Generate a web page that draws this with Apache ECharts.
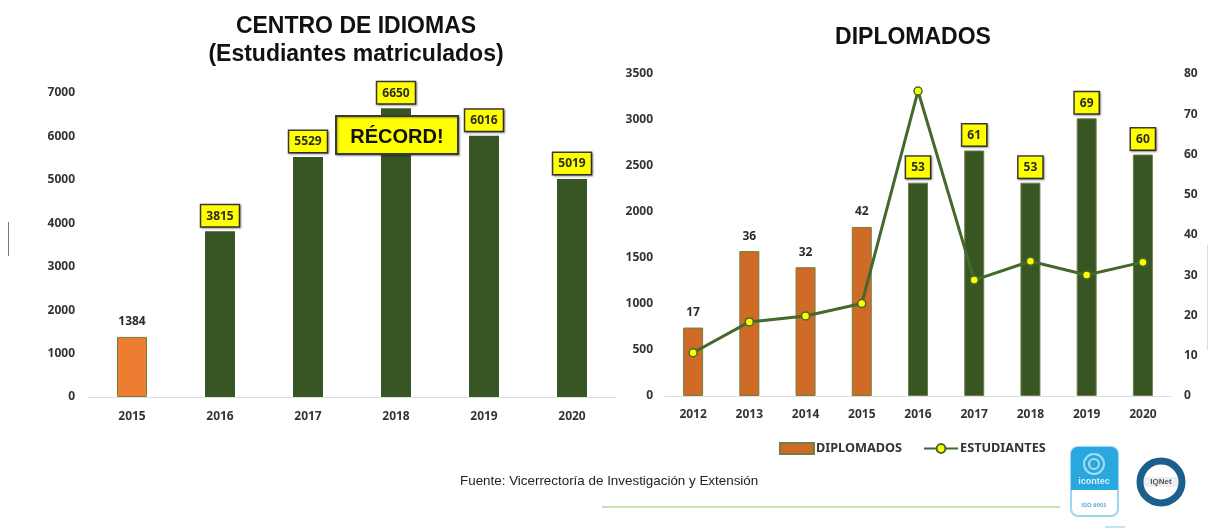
<!DOCTYPE html>
<html>
<head>
<meta charset="utf-8">
<style>
    html, body { margin: 0; padding: 0; background: #fff; }
    #chart { width: 1209px; height: 529px; }
</style>
<script src="https://cdn.jsdelivr.net/npm/echarts@6/dist/echarts.min.js"></script>
</head>
<body>
<div id="chart"></div>
<script>
// Centro de idiomas
const yearsIdiomas = ['2015', '2016', '2017', '2018', '2019', '2020'];
const matriculados = [1384, 3815, 5529, 6650, 6016, 5019];

// Diplomados
const yearsDiplomados = ['2012', '2013', '2014', '2015', '2016', '2017', '2018', '2019', '2020'];
const diplomados = [17, 36, 32, 42, 53, 61, 53, 69, 60];
const estudiantes = [470, 805, 870, 1005, 3315, 1260, 1465, 1315, 1455];

const green = '#375623';
const lineGreen = '#436a2c';
const yellowBox = {
    backgroundColor: '#ffff00',
    borderColor: '#3a3a3a',
    borderWidth: 1.5,
    padding: [5, 5, 4, 5],
    shadowColor: 'rgba(0, 0, 0, 0.35)',
    shadowBlur: 2,
    shadowOffsetX: 1,
    shadowOffsetY: 1
};

// los primeros valores van sin recuadro y en naranja
function barData(values, plainCount, orange) {
    return values.map((value, index) => {
        if (index < plainCount) {
            return {
                value: value,
                itemStyle: { color: orange, borderColor: '#6f7f45', borderWidth: 1 },
                label: { distance: 9 }
            };
        }
        return {
            value: value,
            itemStyle: { color: green },
            label: yellowBox
        };
    });
}

const axisFont = { color: '#333333', fontSize: 12, fontWeight: 'bold', fontFamily: 'Noto Sans' };
const labelFont = { color: '#2b2b2b', fontSize: 12, fontWeight: 'bold', fontFamily: 'Noto Sans' };
const axisLine = { show: true, lineStyle: { color: '#dedede', width: 1 } };
const plainNumber = value => String(value);

const chart = echarts.init(document.getElementById('chart'), null, { renderer: 'canvas' });

chart.setOption({
    animation: false,
    backgroundColor: '#ffffff',
    title: [{
        text: 'CENTRO DE IDIOMAS\n(Estudiantes matriculados)',
        left: 356,
        top: 13,
        padding: 0,
        textAlign: 'center',
        textStyle: {
            color: '#111',
            fontSize: 23,
            lineHeight: 28,
            fontWeight: 'bold',
            fontFamily: 'Liberation Sans'
        }
    }, {
        text: 'DIPLOMADOS',
        left: 913,
        top: 26,
        padding: 0,
        textAlign: 'center',
        textStyle: {
            color: '#111',
            fontSize: 23,
            fontWeight: 'bold',
            fontFamily: 'Liberation Sans'
        }
    }, {
        text: 'Fuente: Vicerrectoría de Investigación y Extensión',
        left: 460,
        top: 475,
        padding: 0,
        textStyle: {
            color: '#222',
            fontSize: 13.4,
            fontWeight: 'normal',
            fontFamily: 'Liberation Sans'
        }
    }],
    legend: {
        data: [
            { name: 'DIPLOMADOS', icon: 'rect' },
            { name: 'ESTUDIANTES' }
        ],
        left: 774,
        top: 437,
        itemWidth: 34,
        itemHeight: 11,
        itemGap: 21,
        textStyle: { color: '#333', fontSize: 12.7, fontWeight: 'bold', fontFamily: 'Noto Sans', padding: [0, 0, 0, -3] }
    },
    grid: [
        { left: 88, top: 93, width: 528, height: 304 },
        { left: 665, top: 74, width: 506, height: 322 }
    ],
    xAxis: [{
        type: 'category',
        gridIndex: 0,
        data: yearsIdiomas,
        axisLine: axisLine,
        axisTick: { show: false },
        axisLabel: { ...axisFont, margin: 14 }
    }, {
        type: 'category',
        gridIndex: 1,
        data: yearsDiplomados,
        axisLine: axisLine,
        axisTick: { show: false },
        axisLabel: { ...axisFont, margin: 13, interval: 0 }
    }],
    yAxis: [{
        type: 'value',
        gridIndex: 0,
        min: 0,
        max: 7000,
        interval: 1000,
        splitLine: { show: false },
        axisLine: { show: false },
        axisTick: { show: false },
        axisLabel: { ...axisFont, margin: 13, formatter: plainNumber }
    }, {
        type: 'value',
        gridIndex: 1,
        position: 'left',
        min: 0,
        max: 3500,
        interval: 500,
        splitLine: { show: false },
        axisLine: { show: false },
        axisTick: { show: false },
        axisLabel: { ...axisFont, margin: 12, formatter: plainNumber }
    }, {
        type: 'value',
        gridIndex: 1,
        position: 'right',
        min: 0,
        max: 80,
        interval: 10,
        splitLine: { show: false },
        axisLine: { show: false },
        axisTick: { show: false },
        axisLabel: { ...axisFont, margin: 13 }
    }],
    series: [{
        name: 'MATRICULADOS',
        type: 'bar',
        xAxisIndex: 0,
        yAxisIndex: 0,
        barWidth: 30,
        data: barData(matriculados, 1, '#ed7d31'),
        label: { show: true, position: 'top', distance: 5, ...labelFont }
    }, {
        name: 'DIPLOMADOS',
        type: 'bar',
        xAxisIndex: 1,
        yAxisIndex: 2,
        barWidth: 20,
        itemStyle: { color: '#d06b27', borderColor: '#6f7f45', borderWidth: 1 },
        data: barData(diplomados, 4, '#d06b27'),
        label: { show: true, position: 'top', distance: 5, ...labelFont }
    }, {
        name: 'ESTUDIANTES',
        type: 'line',
        xAxisIndex: 1,
        yAxisIndex: 1,
        data: estudiantes,
        symbol: 'circle',
        symbolSize: 8,
        lineStyle: { color: lineGreen, width: 3 },
        itemStyle: { color: '#ffff00', borderColor: lineGreen, borderWidth: 1.5 },
        z: 5
    }],
    graphic: [
        // recuadro RÉCORD!
        {
            type: 'rect',
            z: 50,
            shape: { x: 336, y: 116, width: 122, height: 38 },
            style: { fill: '#ffff00', stroke: '#3a3a3a', lineWidth: 2, shadowColor: 'rgba(0,0,0,0.35)', shadowBlur: 2, shadowOffsetX: 1, shadowOffsetY: 1 }
        },
        {
            type: 'text',
            z: 51,
            x: 397,
            y: 137,
            style: { text: 'RÉCORD!', fill: '#111', font: 'bold 20px "Liberation Sans"', textAlign: 'center', textVerticalAlign: 'middle' }
        },
        // linea verde inferior
        { type: 'rect', shape: { x: 602, y: 506, width: 458, height: 2 }, style: { fill: '#c9e2b5' } },
        // marcas sueltas en los bordes
        { type: 'rect', shape: { x: 8, y: 222, width: 1, height: 34 }, style: { fill: '#777' } },
        { type: 'rect', shape: { x: 1207, y: 245, width: 1, height: 105 }, style: { fill: '#ddd' } },
        { type: 'rect', shape: { x: 1105, y: 526, width: 20, height: 2 }, style: { fill: '#bfe6f7' } },
        // logo icontec
        {
            type: 'rect',
            shape: { x: 1071, y: 447, width: 47, height: 69, r: 7 },
            style: { fill: '#ffffff', stroke: '#9fd6ef', lineWidth: 2 }
        },
        {
            type: 'rect',
            shape: { x: 1071, y: 447, width: 47, height: 43, r: [7, 7, 0, 0] },
            style: { fill: '#29a8df' }
        },
        {
            type: 'circle',
            shape: { cx: 1094, cy: 464, r: 10 },
            style: { fill: 'none', stroke: '#a9dcf3', lineWidth: 2 }
        },
        {
            type: 'circle',
            shape: { cx: 1094, cy: 464, r: 5 },
            style: { fill: 'none', stroke: '#a9dcf3', lineWidth: 2 }
        },
        {
            type: 'text', x: 1094, y: 482,
            style: { text: 'icontec', fill: '#d8f0fb', font: 'bold 9px "Liberation Sans"', textAlign: 'center', textVerticalAlign: 'middle' }
        },
        {
            type: 'text', x: 1094, y: 505,
            style: { text: 'ISO 9001', fill: '#5aa9d2', font: 'bold 6px "Liberation Sans"', textAlign: 'center', textVerticalAlign: 'middle' }
        },
        // logo IQNet
        {
            type: 'circle',
            shape: { cx: 1161, cy: 482, r: 21 },
            style: { fill: '#ffffff', stroke: '#1c5f8c', lineWidth: 7 }
        },
        {
            type: 'rect',
            shape: { x: 1144, y: 477, width: 34, height: 10 },
            style: { fill: '#e9eef2' }
        },
        {
            type: 'text', x: 1161, y: 482,
            style: { text: 'IQNet', fill: '#555', font: 'bold 8px "Liberation Sans"', textAlign: 'center', textVerticalAlign: 'middle' }
        }
    ]
});

window.addEventListener('resize', () => chart.resize());
</script>
</body>
</html>
